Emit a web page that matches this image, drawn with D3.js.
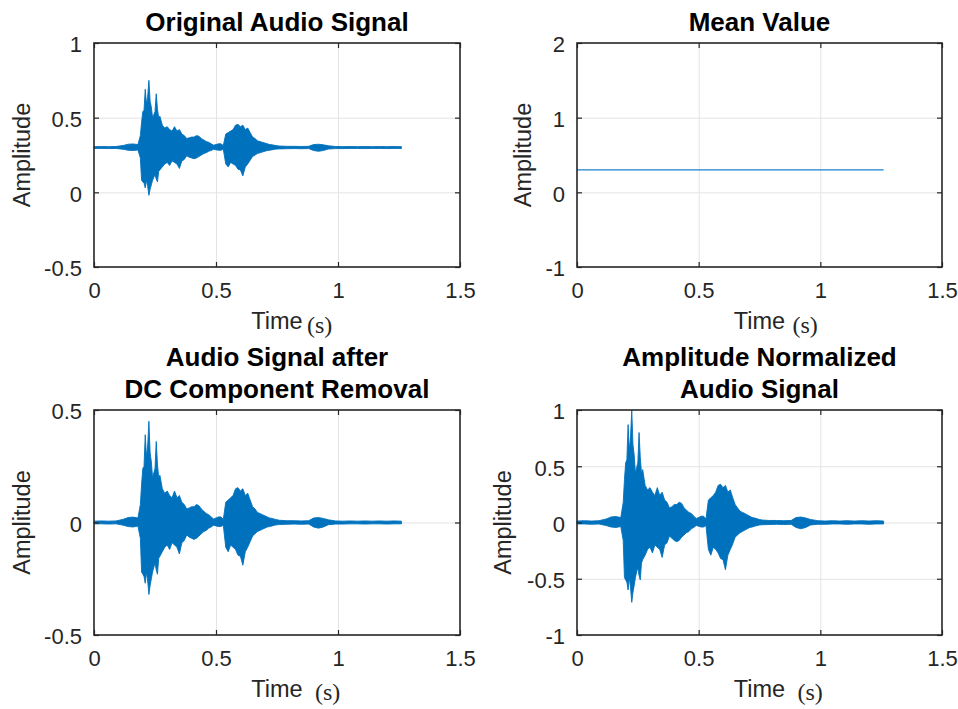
<!DOCTYPE html>
<html lang="en">
<head>
<meta charset="UTF-8">
<title>Audio signal preprocessing</title>
<script src="https://d3js.org/d3.v7.min.js"></script>
<style>
    body { margin: 0; background: #fff; }
    svg { display: block; }
    .tick text { font-family: "Liberation Sans", Arial, sans-serif; font-size: 22px; fill: #262626; }
    .axis .domain { display: none; }
    .axis .tick line { stroke: #262626; stroke-width: 1.2; }
    .grid .domain { display: none; }
    .grid .tick line { stroke: #e3e3e3; stroke-width: 1; }
    .title { font-family: "Liberation Sans", Arial, sans-serif; font-size: 26px; font-weight: bold; fill: #000; }
    .ylabel, .xlabel { font-family: "Liberation Sans", Arial, sans-serif; font-size: 23.5px; fill: #262626; }
    .unit { font-family: "Liberation Serif", "Times New Roman", serif; font-size: 24px; fill: #262626; }
</style>
</head>
<body>
<svg width="958" height="709"></svg>
<script>
// time of each envelope sample (s)
const timeSec = [0, 0.03, 0.06, 0.09, 0.12, 0.14, 0.16, 0.18,
    0.19, 0.195, 0.2, 0.205, 0.21, 0.215, 0.22, 0.225, 0.23, 0.235, 0.24, 0.245, 0.25, 0.255, 0.26, 0.265, 0.27, 0.275, 0.28,
    0.29, 0.3, 0.31, 0.32, 0.33, 0.34, 0.35, 0.36, 0.37, 0.38, 0.39, 0.4, 0.41, 0.42, 0.43, 0.44, 0.45, 0.46, 0.47, 0.48, 0.49, 0.5, 0.51, 0.52, 0.53,
    0.54, 0.55, 0.56, 0.57, 0.58, 0.59, 0.6, 0.61, 0.62, 0.63, 0.64, 0.65, 0.66, 0.67, 0.68, 0.69, 0.7, 0.71, 0.72, 0.73, 0.74, 0.75, 0.76,
    0.79, 0.82, 0.85, 0.88, 0.9, 0.92, 0.94, 0.96, 0.99, 1.02, 1.05, 1.08, 1.11, 1.14, 1.17, 1.2, 1.23, 1.26];

// original signal, upper / lower envelope
const originalUpper = [0.306, 0.307, 0.306, 0.307, 0.314, 0.322, 0.324, 0.32,
    0.38, 0.47, 0.54, 0.55, 0.69, 0.59, 0.64, 0.75, 0.61, 0.57, 0.5, 0.52, 0.54, 0.66, 0.56, 0.5, 0.51, 0.48, 0.45,
    0.43, 0.44, 0.42, 0.41, 0.44, 0.41, 0.42, 0.39, 0.38, 0.36, 0.365, 0.37, 0.37, 0.38, 0.375, 0.36, 0.35, 0.34, 0.335, 0.325, 0.316, 0.32, 0.325, 0.325, 0.314,
    0.39, 0.4, 0.41, 0.42, 0.45, 0.455, 0.44, 0.45, 0.42, 0.43, 0.4, 0.37, 0.36, 0.345, 0.34, 0.335, 0.33, 0.325, 0.32, 0.318, 0.315, 0.312, 0.31,
    0.308, 0.308, 0.307, 0.308, 0.32, 0.322, 0.318, 0.312, 0.307, 0.306, 0.307, 0.306, 0.307, 0.306, 0.307, 0.306, 0.307, 0.306];
const originalLower = [0.294, 0.294, 0.293, 0.294, 0.288, 0.282, 0.28, 0.284,
    0.23, 0.08, 0.07, 0.06, 0.03, 0.08, 0.04, -0.02, 0.02, 0.05, 0.08, 0.1, 0.12, 0.09, 0.07, 0.14, 0.15, 0.16, 0.17,
    0.19, 0.2, 0.18, 0.21, 0.2, 0.19, 0.16, 0.21, 0.22, 0.245, 0.235, 0.23, 0.225, 0.23, 0.24, 0.25, 0.26, 0.265, 0.275, 0.28, 0.288, 0.285, 0.282, 0.282, 0.288,
    0.19, 0.17, 0.2, 0.19, 0.18, 0.155, 0.15, 0.11, 0.17, 0.19, 0.215, 0.24, 0.25, 0.26, 0.265, 0.27, 0.275, 0.28, 0.282, 0.285, 0.288, 0.29, 0.291,
    0.292, 0.293, 0.292, 0.293, 0.28, 0.275, 0.28, 0.29, 0.293, 0.293, 0.294, 0.294, 0.293, 0.294, 0.294, 0.293, 0.294, 0.294];

// mean value line
const meanTime = [0, 1.26];
const meanValue = [0.3, 0.3];

// after DC removal
const dcUpper = [0.006, 0.007, 0.006, 0.007, 0.014, 0.022, 0.024, 0.02,
    0.08, 0.17, 0.24, 0.25, 0.39, 0.29, 0.34, 0.45, 0.31, 0.27, 0.2, 0.22, 0.24, 0.36, 0.26, 0.2, 0.21, 0.18, 0.15,
    0.13, 0.14, 0.12, 0.11, 0.14, 0.11, 0.12, 0.09, 0.08, 0.06, 0.065, 0.07, 0.07, 0.08, 0.075, 0.06, 0.05, 0.04, 0.035, 0.025, 0.016, 0.02, 0.025, 0.025, 0.014,
    0.09, 0.1, 0.11, 0.12, 0.15, 0.155, 0.14, 0.15, 0.12, 0.13, 0.1, 0.07, 0.06, 0.045, 0.04, 0.035, 0.03, 0.025, 0.02, 0.018, 0.015, 0.012, 0.01,
    0.008, 0.008, 0.007, 0.008, 0.02, 0.022, 0.018, 0.012, 0.007, 0.006, 0.007, 0.006, 0.007, 0.006, 0.007, 0.006, 0.007, 0.006];
const dcLower = [-0.006, -0.006, -0.007, -0.006, -0.012, -0.018, -0.02, -0.016,
    -0.07, -0.22, -0.23, -0.24, -0.27, -0.22, -0.26, -0.32, -0.28, -0.25, -0.22, -0.2, -0.18, -0.21, -0.23, -0.16, -0.15, -0.14, -0.13,
    -0.11, -0.1, -0.12, -0.09, -0.1, -0.11, -0.14, -0.09, -0.08, -0.055, -0.065, -0.07, -0.075, -0.07, -0.06, -0.05, -0.04, -0.035, -0.025, -0.02, -0.012, -0.015, -0.018, -0.018, -0.012,
    -0.11, -0.13, -0.1, -0.11, -0.12, -0.145, -0.15, -0.19, -0.13, -0.11, -0.085, -0.06, -0.05, -0.04, -0.035, -0.03, -0.025, -0.02, -0.018, -0.015, -0.012, -0.01, -0.009,
    -0.008, -0.007, -0.008, -0.007, -0.02, -0.025, -0.02, -0.01, -0.007, -0.007, -0.006, -0.006, -0.007, -0.006, -0.006, -0.007, -0.006, -0.006];

// amplitude normalized
const normUpper = [0.013, 0.016, 0.013, 0.016, 0.031, 0.049, 0.053, 0.044,
    0.18, 0.38, 0.53, 0.56, 0.87, 0.64, 0.76, 1, 0.69, 0.6, 0.44, 0.49, 0.53, 0.8, 0.58, 0.44, 0.47, 0.4, 0.33,
    0.29, 0.31, 0.27, 0.24, 0.31, 0.24, 0.27, 0.2, 0.18, 0.13, 0.14, 0.16, 0.16, 0.18, 0.17, 0.13, 0.11, 0.09, 0.08, 0.056, 0.036, 0.044, 0.056, 0.056, 0.031,
    0.2, 0.22, 0.24, 0.27, 0.33, 0.34, 0.31, 0.33, 0.27, 0.29, 0.22, 0.16, 0.13, 0.1, 0.09, 0.08, 0.067, 0.056, 0.044, 0.04, 0.033, 0.027, 0.022,
    0.018, 0.018, 0.016, 0.018, 0.044, 0.049, 0.04, 0.027, 0.016, 0.013, 0.016, 0.013, 0.016, 0.013, 0.016, 0.013, 0.016, 0.013];
const normLower = [-0.013, -0.013, -0.016, -0.013, -0.027, -0.04, -0.044, -0.036,
    -0.16, -0.49, -0.51, -0.53, -0.6, -0.49, -0.58, -0.71, -0.62, -0.56, -0.49, -0.44, -0.4, -0.47, -0.51, -0.36, -0.33, -0.31, -0.29,
    -0.24, -0.22, -0.27, -0.2, -0.22, -0.24, -0.31, -0.2, -0.18, -0.12, -0.14, -0.16, -0.17, -0.16, -0.13, -0.11, -0.09, -0.08, -0.056, -0.044, -0.027, -0.033, -0.04, -0.04, -0.027,
    -0.24, -0.29, -0.22, -0.24, -0.27, -0.32, -0.33, -0.42, -0.29, -0.24, -0.19, -0.13, -0.11, -0.09, -0.08, -0.067, -0.056, -0.044, -0.04, -0.033, -0.027, -0.022, -0.02,
    -0.018, -0.016, -0.018, -0.016, -0.044, -0.056, -0.044, -0.022, -0.016, -0.016, -0.013, -0.013, -0.016, -0.013, -0.013, -0.016, -0.013, -0.013];

// axes
const xTicks = [0, 0.5, 1, 1.5];
const yTicksOriginal = [-0.5, 0, 0.5, 1];
const yTicksMean = [-1, 0, 1, 2];
const yTicksDc = [-0.5, 0, 0.5];
const yTicksNorm = [-1, -0.5, 0, 0.5, 1];

const titleOriginal = ["Original Audio Signal"];
const titleMean = ["Mean Value"];
const titleDc = ["Audio Signal after", "DC Component Removal"];
const titleNorm = ["Amplitude Normalized", "Audio Signal"];

const blue = "#0072BD";
let svg = d3.select("svg");

// layout of the four axes
let panels = [
    {left: 94, top: 43, w: 366, h: 224, yDomain: [-0.5, 1], yTicks: yTicksOriginal, title: titleOriginal,
     kind: "env", upper: originalUpper, lower: originalLower, unitGap: 30, labelY: 329, unitY: 333, ylabX: 30},
    {left: 577, top: 43, w: 365, h: 224, yDomain: [-1, 2], yTicks: yTicksMean, title: titleMean,
     kind: "line", unitGap: 33, labelY: 329, unitY: 333, ylabX: 531},
    {left: 94, top: 410, w: 366, h: 225, yDomain: [-0.5, 0.5], yTicks: yTicksDc, title: titleDc,
     kind: "env", upper: dcUpper, lower: dcLower, unitGap: 38, labelY: 697, unitY: 700, ylabX: 30},
    {left: 577, top: 410, w: 365, h: 225, yDomain: [-1, 1], yTicks: yTicksNorm, title: titleNorm,
     kind: "env", upper: normUpper, lower: normLower, unitGap: 38, labelY: 697, unitY: 700, ylabX: 511}
];

panels.forEach(function (p) {
    let x = d3.scaleLinear().domain([0, 1.5]).range([p.left, p.left + p.w]);
    let y = d3.scaleLinear().domain(p.yDomain).range([p.top + p.h, p.top]);
    let fmt = function (d) { return String(d); };

    // grid
    svg.append("g").attr("class", "grid")
        .attr("transform", "translate(0," + (p.top + p.h) + ")")
        .call(d3.axisBottom(x).tickValues(xTicks.slice(1, -1)).tickSize(-p.h).tickFormat(""));
    svg.append("g").attr("class", "grid")
        .attr("transform", "translate(" + p.left + ",0)")
        .call(d3.axisLeft(y).tickValues(p.yTicks.slice(1, -1)).tickSize(-p.w).tickFormat(""));

    // signal
    if (p.kind === "env") {
        let idx = d3.range(timeSec.length);
        let area = d3.area()
            .x(function (i) { return x(timeSec[i]); })
            .y0(function (i) { return y(p.lower[i]); })
            .y1(function (i) { return y(p.upper[i]); });
        svg.append("path").datum(idx)
            .attr("d", area)
            .attr("fill", blue)
            .attr("stroke", blue)
            .attr("stroke-width", 0.9)
            .attr("stroke-linejoin", "round");
    } else {
        let line = d3.line()
            .x(function (i) { return x(meanTime[i]); })
            .y(function (i) { return y(meanValue[i]); });
        svg.append("path").datum(d3.range(meanTime.length))
            .attr("d", line)
            .attr("fill", "none")
            .attr("stroke", "#1a80cc")
            .attr("stroke-width", 1.2);
    }

    // axes with inward ticks on all four sides
    svg.append("g").attr("class", "axis")
        .attr("transform", "translate(0," + (p.top + p.h) + ")")
        .call(d3.axisBottom(x).tickValues(xTicks).tickSizeInner(-5).tickSizeOuter(0).tickPadding(15).tickFormat(fmt));
    svg.append("g").attr("class", "axis")
        .attr("transform", "translate(0," + p.top + ")")
        .call(d3.axisTop(x).tickValues(xTicks).tickSizeInner(-5).tickSizeOuter(0).tickFormat(""));
    let left = svg.append("g").attr("class", "axis")
        .attr("transform", "translate(" + p.left + ",0)")
        .call(d3.axisLeft(y).tickValues(p.yTicks).tickSizeInner(-5).tickSizeOuter(0).tickPadding(12).tickFormat(fmt));
    left.selectAll(".tick text").attr("dy", "0.4em");
    svg.append("g").attr("class", "axis")
        .attr("transform", "translate(" + (p.left + p.w) + ",0)")
        .call(d3.axisRight(y).tickValues(p.yTicks).tickSizeInner(-5).tickSizeOuter(0).tickFormat(""));

    // box
    svg.append("rect")
        .attr("x", p.left).attr("y", p.top)
        .attr("width", p.w).attr("height", p.h)
        .attr("fill", "none")
        .attr("stroke", "#262626")
        .attr("stroke-width", 1.6);

    // title
    let cx = p.left + p.w / 2;
    let n = p.title.length;
    p.title.forEach(function (t, i) {
        svg.append("text").attr("class", "title")
            .attr("x", cx)
            .attr("y", p.top - 12 - (n - 1 - i) * 32)
            .attr("text-anchor", "middle")
            .text(t);
    });

    // x label
    svg.append("text").attr("class", "xlabel")
        .attr("x", cx).attr("y", p.labelY)
        .attr("text-anchor", "middle")
        .text("Time");
    svg.append("text").attr("class", "unit")
        .attr("x", cx + p.unitGap).attr("y", p.unitY)
        .text("(s)");

    // y label
    svg.append("text").attr("class", "ylabel")
        .attr("transform", "translate(" + p.ylabX + "," + (p.top + p.h / 2) + ") rotate(-90)")
        .attr("text-anchor", "middle")
        .text("Amplitude");
});
</script>
</body>
</html>
